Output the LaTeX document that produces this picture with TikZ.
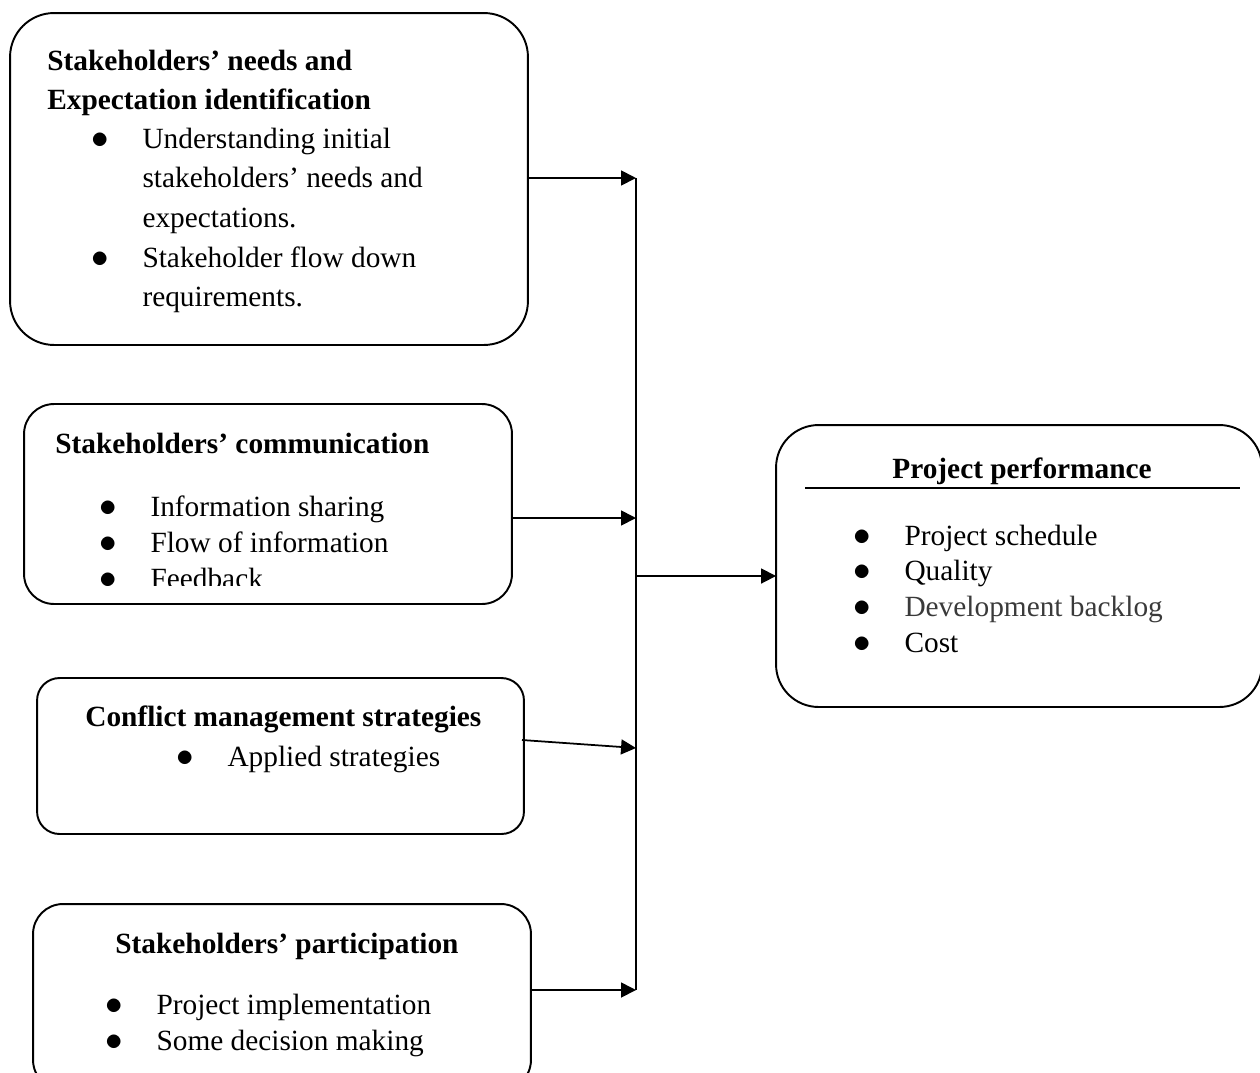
\documentclass[tikz,border=0pt]{standalone}
\usepackage{graphicx}
\usepackage{fontspec}
\setmainfont{Liberation Serif}
\usetikzlibrary{arrows.meta}
\definecolor{ink}{HTML}{000000}
\definecolor{dimtext}{HTML}{3A3A3A}
\newcommand{\bul}{\makebox[0pt]{\scalebox{1.15}{$\bullet$}}\hspace{24pt}}
\newcommand{\ind}{\hspace{24pt}}
\newcommand{\lines}[1]{\begin{tabular}[t]{@{}l@{}}#1\end{tabular}}
\tikzset{
  panel/.style={draw=ink, line width=1.1pt, rounded corners=#1, inner sep=0pt, outer sep=0pt},
  panel/.default=0.6cm,
  link/.style={draw=ink, line width=1pt, -{Triangle[length=8.5pt,width=8.5pt]}},
  bus/.style={draw=ink, line width=1pt},
  lab/.style={text=ink, inner sep=0pt, anchor=base west, font=\fontsize{16.7}{20.5}\selectfont},
  head/.style={lab, font=\fontsize{16.7}{22.2}\selectfont\bfseries},
}

\begin{document}
\begin{tikzpicture}[x=0.02cm, y=-0.02cm]
  \useasboundingbox (0,0) rectangle (1260,1072);

  % boxes
  \node[panel=0.88cm, minimum width=10.36cm, minimum height=6.64cm] (b1) at (269,179) {};
  \node[panel=0.6cm, minimum width=9.76cm, minimum height=4cm] (b2) at (268,504) {};
  \node[panel=0.45cm, minimum width=9.74cm, minimum height=3.12cm] (b3) at (280.5,756) {};
  \node[panel=0.6cm, minimum width=9.96cm, minimum height=3.72cm] (b4) at (282,997) {};
  \node[panel=0.85cm, minimum width=9.72cm, minimum height=5.64cm] (b5) at (1019,566) {};

  % texts
  \node[head] (t1) at (47,70) {\lines{Stakeholders’ needs and\\Expectation identification}};
  \node[lab, font=\fontsize{16.7}{22.6}\selectfont] (l1) at (100,148)
    {\lines{\bul Understanding initial\\\ind stakeholders’ needs and\\\ind expectations.\\\bul Stakeholder flow down\\\ind requirements.}};

  \node[head] (t2) at (55,453) {Stakeholders’ communication};
  \begin{scope}
    \clip (0,0) rectangle (1260,585);
    \node[lab] (l2) at (108,516) {\lines{\bul Information sharing\\\bul Flow of information\\\bul Feedback}};
  \end{scope}

  \node[head] (t3) at (85,726) {Conflict management strategies};
  \node[lab] (l3) at (185,766) {\bul Applied strategies};

  \node[head] (t4) at (115,953) {Stakeholders’ participation};
  \node[lab] (l4) at (114,1014) {\lines{\bul Project implementation\\\bul Some decision making}};

  \node[head] (t5) at (892,478) {Project performance};
  \draw[bus] (805,488) -- (1240,488);
  \node[lab, font=\fontsize{16.7}{20.3}\selectfont] (l5) at (862,545)
    {\lines{\bul Project schedule\\\bul Quality\\\bul \textcolor{dimtext}{Development backlog}\\\bul Cost}};

  % connectors
  \coordinate (j1) at (636,178);
  \coordinate (j2) at (636,518);
  \coordinate (j3) at (636,748);
  \coordinate (j4) at (636,990);
  \coordinate (jo) at (636,576);
  \coordinate (s3) at (522,740);
  \draw[bus] (j1) -- (j4);
  \draw[link] (b1.east |- j1) -- (j1);
  \draw[link] (b2.east |- j2) -- (j2);
  \draw[link] (s3) -- (j3);
  \draw[link] (b4.east |- j4) -- (j4);
  \draw[link] (jo) -- (b5.west |- jo);
\end{tikzpicture}
\end{document}
